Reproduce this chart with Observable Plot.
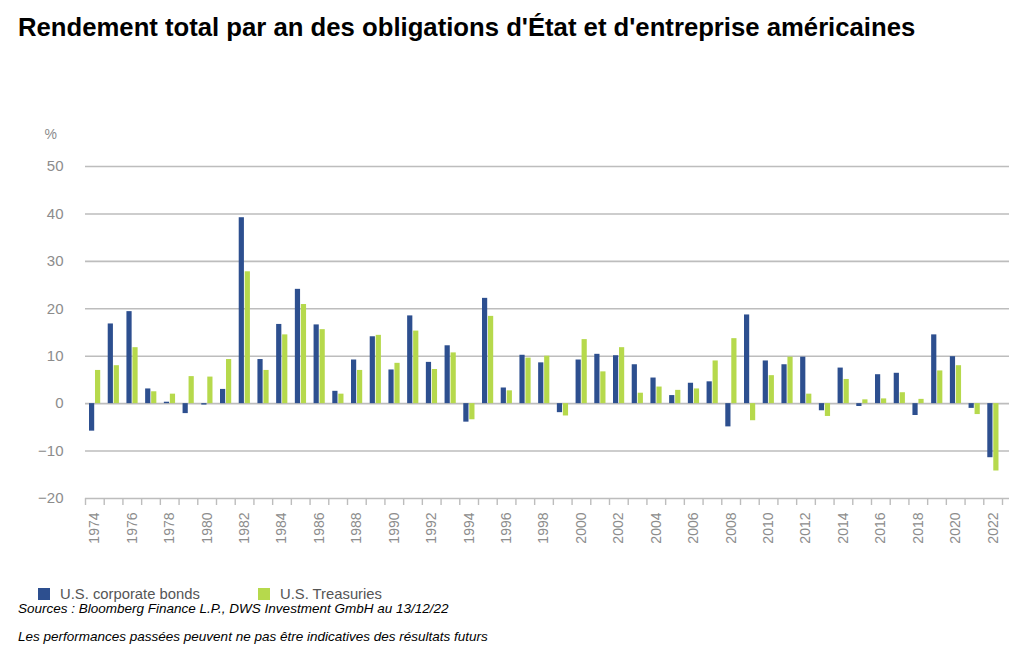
<!DOCTYPE html>
<html>
<head>
<meta charset="utf-8">
<script src="https://cdn.jsdelivr.net/npm/d3@7"></script>
<script src="https://cdn.jsdelivr.net/npm/@observablehq/plot@0.6"></script>
<style>
  html, body { margin: 0; padding: 0; background: #fff; width: 1024px; height: 656px; overflow: hidden; }
  body { position: relative; font-family: "Liberation Sans", Arial, sans-serif; }
  #title { position: absolute; left: 18px; top: 13px; font-size: 25.7px; font-weight: bold; color: #000; line-height: 28px; white-space: nowrap; }
  #chart { position: absolute; left: 0; top: 60px; }
  .leg { position: absolute; top: 586px; font-size: 14.8px; color: #555; line-height: 16px; white-space: nowrap; }
  .sw { display: inline-block; width: 12px; height: 12px; vertical-align: -1px; margin-right: 10px; }
  .note { position: absolute; left: 18px; font-size: 13.5px; font-style: italic; color: #000; line-height: 16px; white-space: nowrap; }
</style>
</head>
<body>
<div id="title">Rendement total par an des obligations d'État et d'entreprise américaines</div>
<div id="chart"></div>
<div class="leg" style="left:38px"><span class="sw" style="background:#2d4f8f"></span>U.S. corporate bonds</div>
<div class="leg" style="left:258px"><span class="sw" style="background:#b6d94c"></span>U.S. Treasuries</div>
<div class="note" style="top:601px">Sources : Bloomberg Finance L.P., DWS Investment GmbH au 13/12/22</div>
<div class="note" style="top:629px">Les performances passées peuvent ne pas être indicatives des résultats futurs</div>
<script>
const years = [1974,1975,1976,1977,1978,1979,1980,1981,1982,1983,1984,1985,1986,1987,1988,1989,1990,1991,1992,1993,1994,1995,1996,1997,1998,1999,2000,2001,2002,2003,2004,2005,2006,2007,2008,2009,2010,2011,2012,2013,2014,2015,2016,2017,2018,2019,2020,2021,2022];
const corporate = [-5.8,16.8,19.4,3.1,0.3,-2.1,-0.3,3.0,39.2,9.3,16.7,24.1,16.6,2.6,9.2,14.1,7.1,18.5,8.7,12.2,-3.9,22.2,3.3,10.2,8.6,-1.9,9.2,10.4,10.1,8.2,5.4,1.7,4.3,4.6,-4.9,18.7,9.0,8.2,9.8,-1.5,7.5,-0.6,6.1,6.4,-2.5,14.5,9.9,-1.0,-11.4];
const treasuries = [7.0,8.0,11.8,2.5,2.0,5.7,5.6,9.3,27.8,7.0,14.5,20.9,15.6,2.0,7.0,14.4,8.5,15.3,7.2,10.7,-3.4,18.4,2.7,9.6,10.0,-2.6,13.5,6.7,11.8,2.2,3.5,2.8,3.1,9.0,13.7,-3.6,5.9,9.8,2.0,-2.7,5.1,0.8,1.0,2.3,0.9,6.9,8.0,-2.3,-14.2];
const yTicks = [-20,-10,0,10,20,30,40,50];
const gridTicks = [-10,0,10,20,30,40,50];
const labelYears = years.filter(y => y % 2 === 0);

const corpData = years.map((y, i) => ({year: y, value: corporate[i]}));
const treasData = years.map((y, i) => ({year: y, value: treasuries[i]}));

const W = 1024, H = 500, mL = 85, mR = 22;
const bw = (W - mL - mR) / years.length;
const grey = "#8c8c8c";
const gridColor = "#bdbdbd";

const chart = Plot.plot({
  width: W, height: H,
  marginLeft: mL, marginRight: mR, marginTop: 106, marginBottom: 62,
  style: {fontFamily: '"Liberation Sans", Arial, sans-serif', background: "#fff"},
  x: {type: "band", domain: years, padding: 0, axis: null, label: null},
  y: {domain: [-20, 50], axis: null, label: null},
  marks: [
    Plot.ruleY(gridTicks, {stroke: gridColor, strokeWidth: 1.6, insetRight: -7}),
    Plot.ruleY([-20], {stroke: gridColor, strokeWidth: 1.6, insetRight: -7}),
    Plot.axisY({ticks: yTicks, label: null, tickSize: 0, tickPadding: 22, fontSize: 15, color: grey, tickFormat: d => d < 0 ? "\u2212" + Math.abs(d) : String(d)}),
    Plot.text(["%"], {frameAnchor: "top-left", dx: -41, dy: -37, fontSize: 14, fill: grey}),
    Plot.barY(corpData, {x: "year", y: "value", fill: "#2d4f8f", insetLeft: 4, insetRight: bw - 9.2}),
    Plot.barY(treasData, {x: "year", y: "value", fill: "#b6d94c", insetLeft: 10, insetRight: bw - 15.2}),
    Plot.axisX({ticks: years, label: null, tickFormat: () => "", tickSize: 7, dx: -bw / 2, stroke: gridColor, strokeWidth: 1.4}),
    Plot.axisX({ticks: [2022], label: null, tickFormat: () => "", tickSize: 7, dx: bw / 2, stroke: gridColor, strokeWidth: 1.4}),
    Plot.axisX({ticks: labelYears, label: null, tickSize: 0, tickPadding: 14, tickRotate: -90, fontSize: 14, color: grey, tickFormat: d => String(d)})
  ]
});
document.getElementById("chart").appendChild(chart);
</script>
</body>
</html>
